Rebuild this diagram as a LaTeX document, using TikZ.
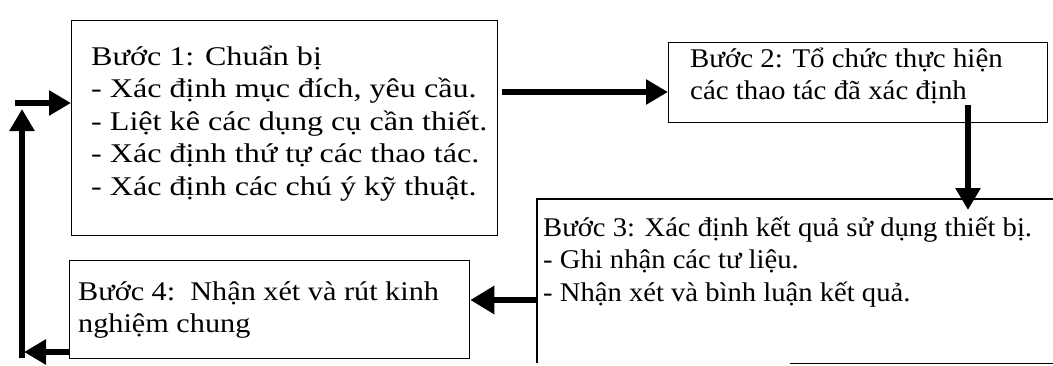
\documentclass[tikz,border=0pt]{standalone}
\usepackage{fontspec}
\setmainfont{Liberation Serif}
\newfontfamily\fonta[FakeStretch=1.19]{Liberation Serif}
\newfontfamily\fontb[FakeStretch=1.07]{Liberation Serif}
\newfontfamily\fontc[FakeStretch=1.06]{Liberation Serif}
\newfontfamily\fontd[FakeStretch=1.12]{Liberation Serif}
\usetikzlibrary{arrows.meta}
\begin{document}
\begin{tikzpicture}[x=1pt,y=-1pt,
  box/.style={draw,line width=1.3pt,inner sep=0pt,anchor=north west},
  txt/.style={anchor=base west,inner sep=0pt,font=\fontsize{27}{32.5}\selectfont},
  flow/.style={line width=6pt,-{Triangle[length=22pt,width=24pt]}}]
\useasboundingbox (0,0) rectangle (1053,365);
% boxes
\node[box,minimum width=426pt,minimum height=215pt] (b1) at (71,20) {};
\node[box,minimum width=379pt,minimum height=80pt] (b2) at (668,42) {};
\node[box,draw=none,minimum width=600pt,minimum height=163pt] (b3) at (537,199) {};
\node[box,minimum width=400pt,minimum height=98pt] (b4) at (69,260) {};
\draw[line width=1.3pt] (b3.south west) -- (b3.north west) -- (b3.north east);
\draw[line width=1.3pt] ([xshift=253pt]b3.south west) -- (b3.south east);
% texts
\node[txt] (t1) at (91,65) {\fonta\parbox[t]{420pt}{\raggedright Bước 1: Chuẩn bị\\- Xác định mục đích, yêu cầu.\\- Liệt kê các dụng cụ cần thiết.\\- Xác định thứ tự các thao tác.\\- Xác định các chú ý kỹ thuật.}};
\node[txt] (t2) at (690,67) {\fontb\parbox[t]{350pt}{\raggedright Bước 2: Tổ chức thực hiện\\các thao tác đã xác định}};
\node[txt] (t3) at (543,236) {\fontc\parbox[t]{500pt}{\raggedright Bước 3: Xác định kết quả sử dụng thiết bị.\\- Ghi nhận các tư liệu.\\- Nhận xét và bình luận kết quả.}};
\node[txt] (t4) at (78,300) {\fontd\parbox[t]{390pt}{\raggedright Bước 4:\ \ Nhận xét và rút kinh\\nghiệm chung}};
% connectors
\coordinate (s1) at (15,103);
\draw[flow] (s1) -- (s1 -| b1.west);
\coordinate (s2) at (502,92);
\draw[flow] (s2) -- (s2 -| b2.west);
\coordinate (s3) at (968,105);
\coordinate (e3) at (968,210);
\draw[flow] (s3) -- (e3);
\coordinate (s4) at (537,300);
\draw[flow,-{Triangle[length=24pt,width=27pt]}] (s4) -- (s4 -| b4.east);
\coordinate (s5) at (69,352);
\coordinate (e5) at (24,352);
\draw[flow] (s5) -- (e5);
\coordinate (v0) at (22,358);
\coordinate (v1) at (22,109);
\draw[flow] (v0) -- (v1);
\end{tikzpicture}
\end{document}
